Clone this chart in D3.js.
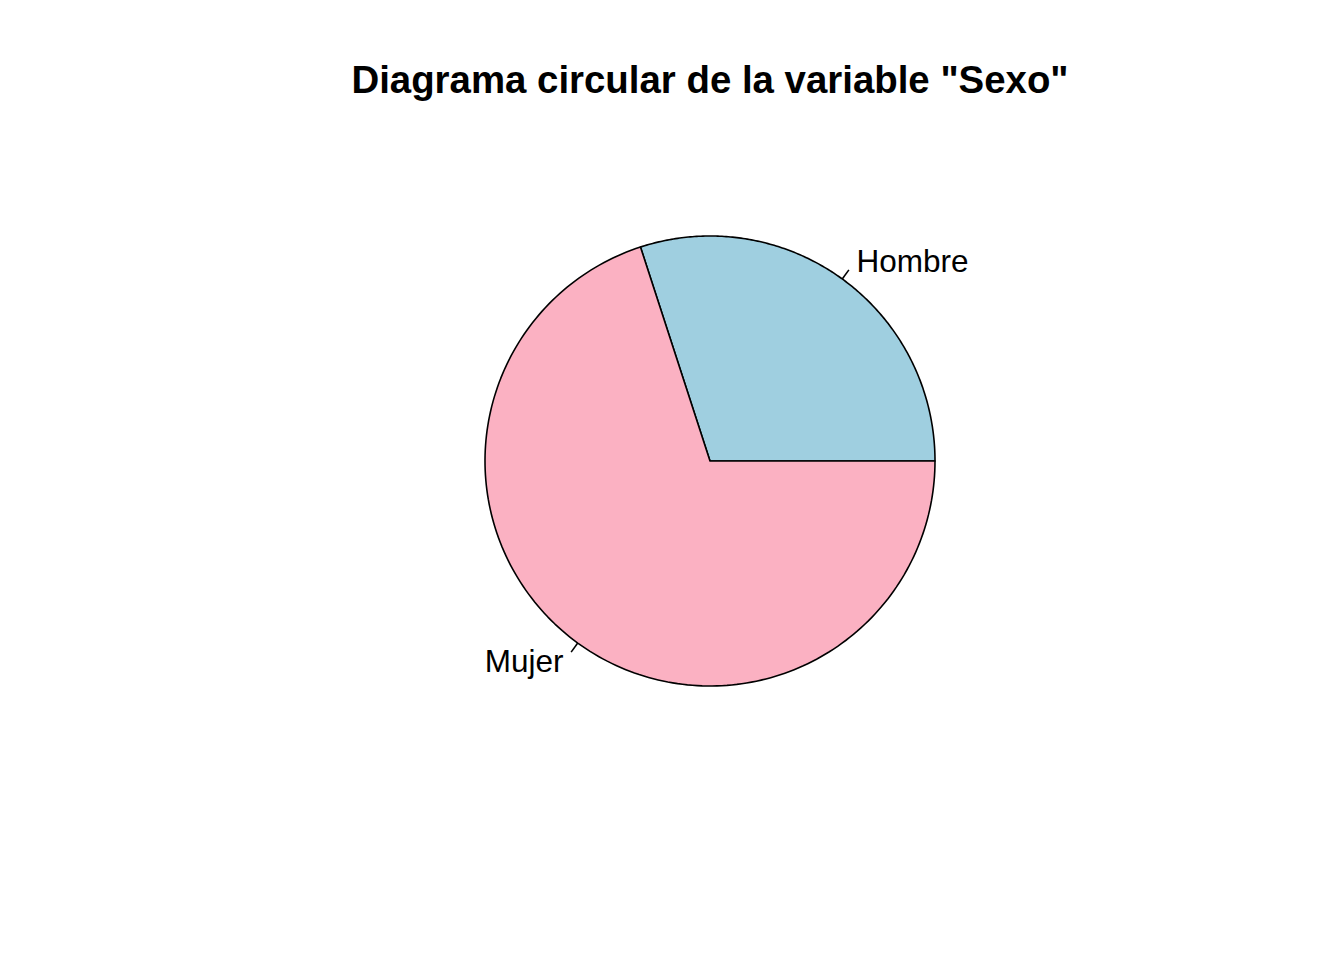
<!DOCTYPE html>
<html><head><meta charset="utf-8">
<script src="https://cdn.jsdelivr.net/npm/d3@7"></script>
<style>body{margin:0;background:#fff}</style>
</head><body>
<script>
const categories = ["Hombre", "Mujer"];
const values = [30, 70];
const colors = ["#9FCFE0", "#FBB1C2"];
const title = 'Diagrama circular de la variable "Sexo"';

const W = 1344, H = 960, cx = 710, cy = 461, R = 225;
const svg = d3.select("body").append("svg").attr("width", W).attr("height", H);

svg.append("text").attr("x", cx).attr("y", 93).attr("text-anchor", "middle")
  .attr("font-family", "Liberation Sans, Arial, sans-serif").attr("font-weight", "bold")
  .attr("font-size", 38.4).text(title);

const total = d3.sum(values);
// R pie: counterclockwise starting at 0 rad (east)
const angle = d3.scaleLinear().domain([0, total]).range([0, 2 * Math.PI]);
let cum = 0;
const slices = values.map((v, i) => { const s = { a0: angle(cum), a1: angle(cum + v), i }; cum += v; return s; });

const g = svg.append("g").attr("transform", `translate(${cx},${cy})`);
const pt = (a, r) => [r * Math.cos(a), -r * Math.sin(a)];

slices.forEach(s => {
  const n = 200, pts = [[0, 0]];
  for (let k = 0; k <= n; k++) pts.push(pt(s.a0 + (s.a1 - s.a0) * k / n, R));
  g.append("path").attr("d", d3.line()(pts) + "Z")
    .attr("fill", colors[s.i]).attr("stroke", "#000").attr("stroke-width", 1.6)
    .attr("stroke-linejoin", "round");
  const mid = (s.a0 + s.a1) / 2;
  const p1 = pt(mid, R), p2 = pt(mid, R * 1.05), p3 = pt(mid, R * 1.1);
  g.append("line").attr("x1", p1[0]).attr("y1", p1[1]).attr("x2", p2[0]).attr("y2", p2[1])
    .attr("stroke", "#000").attr("stroke-width", 1.6);
  g.append("text").attr("x", p3[0] + (Math.cos(mid) > 0 ? 1 : -1)).attr("y", p3[1] + 11)
    .attr("text-anchor", Math.cos(mid) > 0 ? "start" : "end")
    .attr("font-family", "Liberation Sans, Arial, sans-serif").attr("font-size", 31.5)
    .text(categories[s.i]);
});
</script>
</body></html>
